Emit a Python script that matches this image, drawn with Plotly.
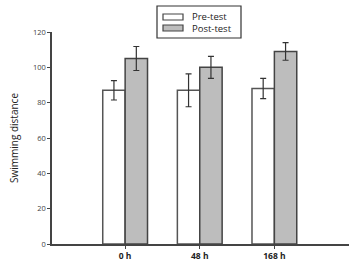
import plotly.graph_objects as go

categories = ["0 h", "48 h", "168 h"]
pre_test = [87, 87, 88]
pre_err = [5.5, 9.3, 5.7]
post_test = [105, 100, 109]
post_err = [6.8, 6.2, 5.0]
series_names = ["Pre-test", "Post-test"]

xpos = list(range(len(categories)))

W, H = 352, 266
L, R, T, B = 52, 3, 32, 22
pw, ph = W - L - R, H - T - B


def px(x):
    return (x - L) / pw


def py(y):
    return (H - B - y) / ph


fig = go.Figure()
fig.add_trace(go.Bar(
    x=xpos, y=pre_test, name=series_names[0], showlegend=False,
    marker=dict(color="white", line=dict(color="#555555", width=1.5)),
    error_y=dict(type="data", array=pre_err, color="#333333", thickness=1.2, width=3),
))
fig.add_trace(go.Bar(
    x=xpos, y=post_test, name=series_names[1], showlegend=False,
    marker=dict(color="#bdbdbd", line=dict(color="#444444", width=1.5)),
    error_y=dict(type="data", array=post_err, color="#333333", thickness=1.2, width=3),
))

# manual legend (box, swatches, labels)
shapes = [
    dict(type="rect", xref="paper", yref="paper", x0=px(157), x1=px(241), y0=py(38), y1=py(6),
         line=dict(color="#333333", width=1.2), fillcolor="white"),
    dict(type="rect", xref="paper", yref="paper", x0=px(163), x1=px(183), y0=py(20), y1=py(14),
         line=dict(color="#444444", width=1.2), fillcolor="white"),
    dict(type="rect", xref="paper", yref="paper", x0=px(163), x1=px(183), y0=py(31), y1=py(25),
         line=dict(color="#444444", width=1.2), fillcolor="#bdbdbd"),
]
annotations = [
    dict(xref="paper", yref="paper", x=px(190), y=py(16), text=series_names[0], showarrow=False,
         xanchor="left", yanchor="middle", font=dict(size=9.5, color="#222222")),
    dict(xref="paper", yref="paper", x=px(190), y=py(28), text=series_names[1], showarrow=False,
         xanchor="left", yanchor="middle", font=dict(size=9.5, color="#222222")),
]

fig.update_layout(
    width=W, height=H,
    margin=dict(l=L, r=R, t=T, b=B, autoexpand=False),
    paper_bgcolor="white", plot_bgcolor="white",
    barmode="group", bargap=0.4, bargroupgap=0,
    font=dict(family="Open Sans, Arial, sans-serif", color="#333333"),
    showlegend=False,
    shapes=shapes, annotations=annotations,
    xaxis=dict(
        range=[-0.98, 3.0],
        tickvals=xpos, ticktext=["<b>" + c + "</b>" for c in categories],
        showline=True, linecolor="#444444", linewidth=1.5,
        ticks="outside", ticklen=3, tickcolor="#444444",
        tickfont=dict(size=8.5, color="#222222"),
        showgrid=False, zeroline=False,
    ),
    yaxis=dict(
        range=[0, 120], dtick=20,
        showline=True, linecolor="#444444", linewidth=1.5,
        ticks="outside", ticklen=3, tickcolor="#444444",
        tickfont=dict(size=7.5, color="#444444"),
        showgrid=False, zeroline=False,
        title=dict(text="Swimming distance", font=dict(size=10, color="#222222"), standoff=12),
    ),
)

fig.write_html(
    "out.html",
    config={"displayModeBar": False},
    post_script="document.body.style.margin='0';document.body.style.overflow='hidden';",
)
